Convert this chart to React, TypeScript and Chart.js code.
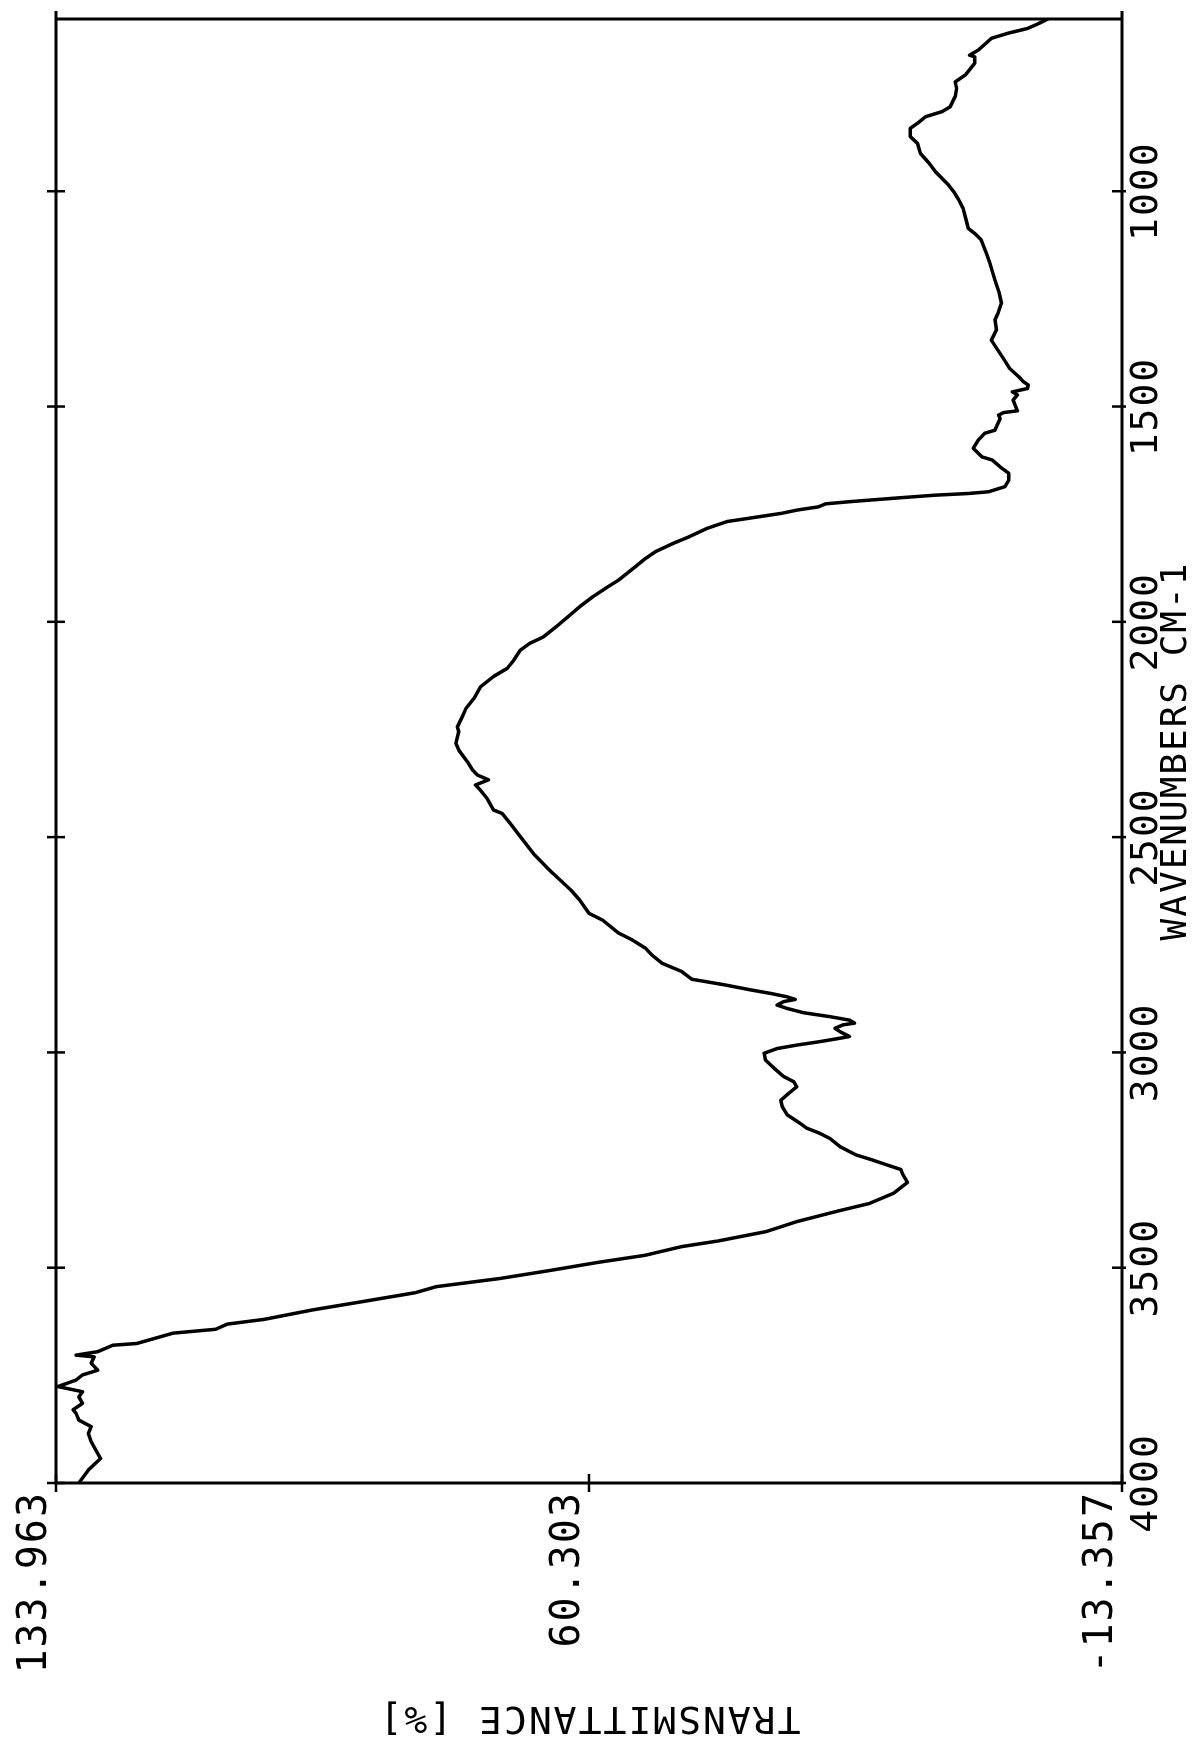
import React, { useEffect, useRef } from "react";
import { Chart, registerables } from "chart.js";

Chart.register(...registerables);

// Wavenumbers (cm-1), in drawing order from 4000 down to 600
const wavenumbers = [
  4000, 3970, 3943, 3916, 3904, 3885, 3869, 3854, 3838, 3830, 3815, 3800, 3788, 3776, 3761, 3749,
  3738, 3722, 3707, 3703, 3695, 3680, 3676, 3652, 3643, 3631, 3620, 3598, 3577, 3558, 3544, 3525,
  3507, 3488, 3471, 3451, 3438, 3416, 3393, 3368, 3351, 3327, 3302, 3281, 3272, 3258, 3250, 3238,
  3219, 3200, 3188, 3176, 3165, 3145, 3126, 3111, 3095, 3080, 3068, 3056, 3037, 3018, 3002, 2991,
  2983, 2975, 2967, 2963, 2952, 2944, 2936, 2932, 2925, 2917, 2908, 2898, 2890, 2882, 2877, 2871,
  2863, 2855, 2843, 2830, 2812, 2793, 2774, 2758, 2739, 2723, 2693, 2677, 2646, 2623, 2584, 2569,
  2538, 2499, 2468, 2445, 2437, 2410, 2391, 2379, 2367, 2356, 2344, 2325, 2298, 2282, 2255, 2244,
  2220, 2201, 2178, 2151, 2127, 2108, 2089, 2066, 2050, 2035, 2011, 1988, 1965, 1942, 1922, 1903,
  1884, 1872, 1853, 1837, 1818, 1802, 1783, 1767, 1760, 1748, 1740, 1733, 1726, 1721, 1713, 1706,
  1702, 1698, 1686, 1671, 1655, 1644, 1624, 1617, 1597, 1578, 1562, 1555, 1528, 1520, 1514, 1510,
  1497, 1485, 1473, 1466, 1458, 1450, 1442, 1431, 1411, 1392, 1369, 1346, 1322, 1299, 1284, 1260,
  1237, 1206, 1167, 1144, 1113, 1098, 1086, 1059, 1040, 1020, 1001, 986, 955, 935, 912, 889,
  873, 854, 842, 827, 815, 804, 780, 761, 746, 730, 703, 688, 684, 672, 645, 633,
  622, 610, 600,
];

// Transmittance (%), one value per wavenumber above
const transmittance = [
  130.8, 129.5, 127.8, 128.7, 129.1, 129.5, 129.1, 130.8, 131.2, 131.6, 130.3, 130.8, 130.3, 133.7, 131.2, 130.3,
  128.2, 129.1, 128.7, 131.2, 128.2, 126.1, 122.8, 117.8, 111.9, 110.3, 105.2, 98.5, 91.0, 84.3, 81.4, 72.6,
  65.9, 59.2, 52.5, 47.5, 42.5, 35.8, 31.6, 25.8, 21.6, 18.2, 16.3, 17.0, 17.2, 19.7, 21.1, 23.4,
  25.6, 27.0, 28.4, 30.2, 31.1, 32.9, 33.6, 33.8, 32.7, 31.6, 32.0, 33.4, 34.7, 35.9, 36.1, 34.3,
  31.6, 28.4, 25.6, 24.3, 25.6, 26.3, 25.2, 23.6, 24.3, 27.0, 30.6, 32.9, 34.3, 33.4, 31.8, 32.9,
  35.2, 37.9, 41.6, 46.1, 47.5, 50.2, 51.6, 52.5, 54.3, 56.2, 58.4, 60.3, 61.6, 62.8, 65.3, 66.2,
  68.0, 69.8, 71.2, 72.3, 73.5, 74.4, 75.3, 76.0, 74.2, 75.7, 76.4, 77.1, 78.3, 78.7, 78.3, 78.5,
  77.8, 77.3, 76.2, 75.3, 73.5, 71.6, 70.7, 69.8, 68.5, 66.6, 64.8, 63.2, 61.6, 59.8, 58.0, 56.2,
  54.8, 53.9, 52.5, 51.1, 48.7, 46.4, 44.0, 41.2, 38.4, 33.7, 31.4, 28.6, 27.6, 24.3, 18.2, 12.6,
  7.9, 5.1, 2.8, 2.3, 2.3, 3.2, 4.6, 6.0, 7.2, 6.5, 5.6, 4.2, 3.5, 3.7, 3.0, 1.1,
  1.4, 1.7, 1.1, 1.8, -0.3, -0.4, 0.3, 0.9, 2.2, 2.9, 3.8, 4.7, 4.0, 4.2, 3.8, 3.3,
  3.6, 4.2, 4.9, 5.4, 6.1, 7.0, 7.9, 8.3, 8.6, 9.2, 9.9, 10.6, 12.4, 13.3, 14.5, 14.9,
  15.9, 15.9, 14.9, 13.8, 11.5, 10.4, 9.7, 9.5, 9.7, 8.3, 7.0, 7.0, 7.7, 6.5, 4.7, 2.4,
  -0.3, -1.9, -3.1,
];

const wavenumberTicks = [4000, 3500, 3000, 2500, 2000, 1500, 1000];
const transmittanceTicks = [-13.357, 60.303, 133.963];
const wavenumberMin = 600;
const wavenumberMax = 4000;
const transmittanceMin = -13.357;
const transmittanceMax = 133.963;
const xTitle = "WAVENUMBERS CM-1";
const yTitle = "TRANSMITTANCE [%]";

const PAGE_W = 1198;
const PAGE_H = 1740;
const FONT = "'DejaVu Sans Mono', 'Liberation Mono', monospace";

export default function App() {
  const canvasRef = useRef<HTMLCanvasElement | null>(null);

  useEffect(() => {
    const canvas = canvasRef.current;
    if (!canvas) return;

    const plotterFrame = {
      id: "plotterFrame",
      beforeDraw(chart: any) {
        chart.ctx.letterSpacing = "2px";
      },
      afterDraw(chart: any) {
        const { ctx, chartArea: a, scales } = chart;
        const xs = scales.x;
        const ys = scales.y;
        ctx.save();
        ctx.strokeStyle = "#000";
        ctx.lineWidth = 3;
        ctx.lineCap = "butt";
        ctx.beginPath();
        ctx.moveTo(a.left, a.top);
        ctx.lineTo(a.left, a.bottom);
        ctx.moveTo(a.left - 1.5, a.top);
        ctx.lineTo(a.right + 8, a.top);
        ctx.moveTo(a.left - 1.5, a.bottom);
        ctx.lineTo(a.right + 8, a.bottom);
        ctx.moveTo(a.right, a.top);
        ctx.lineTo(a.right, a.bottom);
        ctx.stroke();
        ctx.lineWidth = 2.5;
        ctx.beginPath();
        for (const v of wavenumberTicks) {
          const p = xs.getPixelForValue(v);
          ctx.moveTo(p, a.top - 9);
          ctx.lineTo(p, a.top + 9);
          ctx.moveTo(p, a.bottom - 10);
          ctx.lineTo(p, a.bottom + 4);
        }
        for (const v of transmittanceTicks) {
          const p = ys.getPixelForValue(v);
          ctx.moveTo(a.left - 9, p);
          ctx.lineTo(a.left + 9, p);
        }
        ctx.stroke();
        ctx.restore();
      },
    };

    const points = wavenumbers.map((w, i) => ({ x: w, y: transmittance[i] }));

    const chart = new Chart(canvas, {
      type: "line",
      data: {
        datasets: [
          {
            data: points,
            borderColor: "#000",
            borderWidth: 3.5,
            pointRadius: 0,
            tension: 0,
            fill: false,
            borderJoinStyle: "round",
            borderCapStyle: "round",
          },
        ],
      },
      options: {
        responsive: false,
        animation: false,
        devicePixelRatio: 1,
        layout: { padding: { left: 0, right: 19, top: 44, bottom: 0 } },
        plugins: {
          legend: { display: false },
          tooltip: { enabled: false },
        },
        scales: {
          x: {
            type: "linear",
            position: "bottom",
            min: wavenumberMin,
            max: wavenumberMax,
            reverse: true,
            afterBuildTicks: (scale: any) => {
              scale.ticks = wavenumberTicks.map((v) => ({ value: v }));
            },
            afterFit: (scale: any) => {
              scale.height = 76;
            },
            grid: { display: false, drawTicks: false },
            border: { display: false },
            ticks: {
              autoSkip: false,
              maxRotation: 0,
              minRotation: 0,
              padding: 2,
              color: "#000",
              font: { family: FONT, size: 38 },
              callback: (v: any) => String(v),
            },
            title: {
              display: true,
              text: xTitle,
              color: "#000",
              padding: 0,
              font: { family: FONT, size: 36 },
            },
          },
          y: {
            type: "linear",
            position: "left",
            min: transmittanceMin,
            max: transmittanceMax,
            afterBuildTicks: (scale: any) => {
              scale.ticks = transmittanceTicks.map((v) => ({ value: v }));
            },
            afterFit: (scale: any) => {
              scale.width = 257;
            },
            grid: { display: false, drawTicks: false },
            border: { display: false },
            ticks: {
              padding: 8,
              align: "end",
              color: "#000",
              font: { family: FONT, size: 40 },
              callback: (v: any) => Number(v).toFixed(3),
            },
            title: {
              display: true,
              text: yTitle,
              color: "#000",
              padding: 0,
              font: { family: FONT, size: 38 },
            },
          },
        },
      },
      plugins: [plotterFrame],
    } as any);

    return () => {
      chart.destroy();
    };
  }, []);

  return (
    <div
      style={{
        position: "fixed",
        left: 0,
        top: 0,
        width: PAGE_W,
        height: PAGE_H,
        overflow: "hidden",
        background: "#fff",
      }}
    >
      <canvas
        ref={canvasRef}
        width={PAGE_H}
        height={PAGE_W}
        style={{
          position: "absolute",
          left: 0,
          top: 0,
          width: PAGE_H,
          height: PAGE_W,
          transformOrigin: "0 0",
          transform: `translateY(${PAGE_H}px) rotate(-90deg)`,
        }}
      />
    </div>
  );
}
